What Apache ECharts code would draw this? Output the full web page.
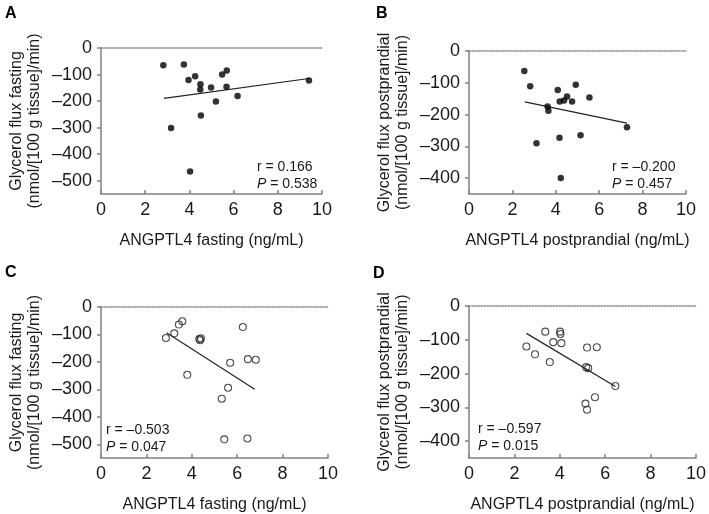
<!DOCTYPE html>
<html>
<head>
<meta charset="utf-8">
<script src="https://cdn.jsdelivr.net/npm/echarts@6/dist/echarts.min.js"></script>
<style>
  html, body { margin: 0; padding: 0; background: #fff; }
  #chart { width: 709px; height: 514px; }
</style>
</head>
<body>
<div id="chart"></div>
<script>
// 数据
var xTicks = [0, 2, 4, 6, 8, 10];
var yTicksA = [-500, -400, -300, -200, -100, 0];
var yTicksB = [-400, -300, -200, -100, 0];

// A: ANGPTL4 fasting vs glycerol flux fasting
var aX = [2.82, 3.75, 3.17, 3.96, 4.26, 4.50, 4.49, 4.52, 4.03, 4.98, 5.48, 5.69, 5.68, 5.20, 6.18, 9.41];
var aY = [-65, -62, -301, -121, -106, -137, -156, -254, -465, -149, -100, -85, -146, -202, -181, -122];
var aLineX = [2.85, 9.41];
var aLineY = [-190, -115];

// B: postprandial
var bX = [2.55, 2.82, 3.11, 3.62, 3.66, 4.09, 4.18, 4.17, 4.23, 4.38, 4.52, 4.75, 4.92, 5.14, 5.55, 7.28];
var bY = [-63, -111, -290, -175, -188, -123, -159, -273, -400, -156, -143, -159, -106, -265, -146, -240];
var bLineX = [2.57, 7.28];
var bLineY = [-160, -227];

// C: fasting (空心圆)
var cX = [2.86, 3.23, 3.43, 3.58, 3.80, 4.33, 4.37, 4.40, 6.25, 5.69, 6.47, 6.82, 5.60, 5.32, 5.43, 6.45];
var cY = [-113, -96, -64, -52, -247, -117, -121, -114, -73, -203, -190, -192, -294, -334, -482, -479];
var cLineX = [2.89, 6.77];
var cLineY = [-94, -300];

// D: postprandial (空心圆)
var dX = [2.53, 2.91, 3.36, 3.71, 3.56, 4.01, 4.03, 4.07, 5.20, 5.63, 5.16, 5.25, 5.13, 5.20, 5.55, 6.45];
var dY = [-120, -143, -76, -107, -166, -76, -83, -110, -123, -122, -181, -184, -289, -307, -270, -237];
var dLineX = [2.53, 6.45];
var dLineY = [-81, -238];

var panels = [
    { letter: 'A', x: aX, y: aY, lx: aLineX, ly: aLineY, min: -550, ticks: yTicksA, open: false,
      xName: 'ANGPTL4 fasting (ng/mL)', yName: 'Glycerol flux fasting\n(nmol/[100 g tissue]/min)',
      r: 'r = 0.166', p: '0.538' },
    { letter: 'B', x: bX, y: bY, lx: bLineX, ly: bLineY, min: -450, ticks: yTicksB, open: false,
      xName: 'ANGPTL4 postprandial (ng/mL)', yName: 'Glycerol flux postprandial\n(nmol/[100 g tissue]/min)',
      r: 'r = \u20130.200', p: '0.457' },
    { letter: 'C', x: cX, y: cY, lx: cLineX, ly: cLineY, min: -550, ticks: yTicksA, open: true,
      xName: 'ANGPTL4 fasting (ng/mL)', yName: 'Glycerol flux fasting\n(nmol/[100 g tissue]/min)',
      r: 'r = \u20130.503', p: '0.047' },
    { letter: 'D', x: dX, y: dY, lx: dLineX, ly: dLineY, min: -450, ticks: yTicksB, open: true,
      xName: 'ANGPTL4 postprandial (ng/mL)', yName: 'Glycerol flux postprandial\n(nmol/[100 g tissue]/min)',
      r: 'r = \u20130.597', p: '0.015' }
];

// 各面板的绘图区域
var grids = [
    { left: 101, top: 48, width: 221, height: 146 },
    { left: 469, top: 51, width: 217, height: 143 },
    { left: 101, top: 307, width: 227, height: 151 },
    { left: 469, top: 306, width: 230, height: 152 }
];
// 字母与 r/P 注释的位置
var letterPos = [[5, 6], [376, 6], [5, 265], [373, 266]];
var notePos = [[257, 159], [612, 159], [106, 422], [478, 421]];

var font = 'Liberation Sans, Arial, sans-serif';
var axisColor = '#808080';
var textColor = '#1a1a1a';

function fmtMinus(v) {
    return String(v).replace('-', '\u2013');
}

var xAxes = [], yAxes = [], series = [], graphics = [];
panels.forEach(function (p, i) {
    xAxes.push({
        gridIndex: i, type: 'value', min: 0, max: 10, interval: 2, position: 'bottom',
        name: p.xName, nameLocation: 'middle', nameGap: 39,
        nameTextStyle: { fontFamily: font, fontSize: 16, color: textColor },
        axisLine: { onZero: false, lineStyle: { color: axisColor, width: 1.5 } },
        axisTick: { inside: true, length: 4, lineStyle: { color: axisColor, width: 1.5 } },
        axisLabel: { fontFamily: font, fontSize: 18, color: textColor, margin: 7 },
        splitLine: { show: false }
    });
    // 顶部 y=0 的虚线
    xAxes.push({
        gridIndex: i, type: 'value', min: 0, max: 10, position: 'top',
        axisLine: { onZero: false, lineStyle: { color: '#8c8c8c', width: 1.5, type: 'dotted' } },
        axisTick: { show: false }, axisLabel: { show: false }, splitLine: { show: false }
    });
    yAxes.push({
        gridIndex: i, type: 'value', min: p.min, max: 0,
        name: p.yName, nameLocation: 'middle', nameGap: 57, nameRotate: 90,
        nameTextStyle: { fontFamily: font, fontSize: 16, color: textColor, lineHeight: 18 },
        axisLine: { onZero: false, lineStyle: { color: axisColor, width: 1.5 } },
        axisTick: { length: 4, customValues: p.ticks, lineStyle: { color: axisColor, width: 1.5 } },
        axisLabel: { fontFamily: font, fontSize: 18, color: textColor, margin: 9,
                     customValues: p.ticks, formatter: fmtMinus },
        splitLine: { show: false }
    });
    series.push({
        type: 'scatter', xAxisIndex: i * 2, yAxisIndex: i,
        data: p.x.map(function (v, k) { return [v, p.y[k]]; }),
        symbol: 'circle', symbolSize: p.open ? 7 : 6.5,
        itemStyle: p.open
            ? { color: 'rgba(255,255,255,0)', borderColor: '#222', borderWidth: 1.1 }
            : { color: '#000' },
        z: 3
    });
    series.push({
        type: 'line', xAxisIndex: i * 2, yAxisIndex: i,
        data: p.lx.map(function (v, k) { return [v, p.ly[k]]; }),
        symbol: 'none', lineStyle: { color: '#222', width: 1.2 }, z: 2
    });
    graphics.push({
        type: 'text', left: letterPos[i][0], top: letterPos[i][1],
        style: { text: p.letter, font: 'bold 16px ' + font, fill: '#000' }
    });
    graphics.push({
        type: 'text', left: notePos[i][0], top: notePos[i][1],
        style: {
            text: p.r + '\n{i|P} = ' + p.p,
            font: '14px ' + font, fill: textColor, lineHeight: 17,
            rich: { i: { fontStyle: 'italic', fontFamily: font, fontSize: 14, fill: textColor } }
        }
    });
});

var chart = echarts.init(document.getElementById('chart'));
chart.setOption({
    backgroundColor: '#fff',
    animation: false,
    grid: grids,
    xAxis: xAxes,
    yAxis: yAxes,
    series: series,
    graphic: graphics
});
</script>
</body>
</html>
